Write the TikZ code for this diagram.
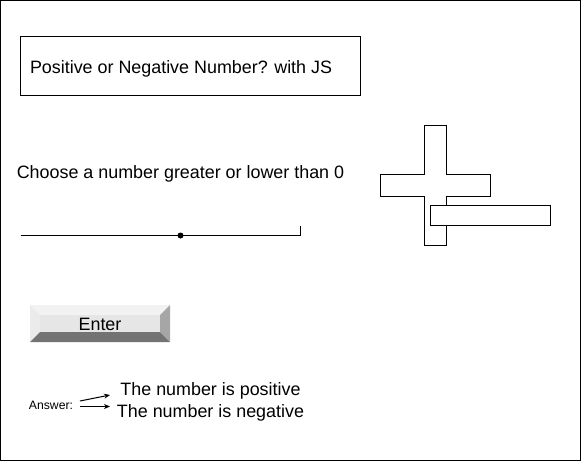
\documentclass[tikz,border=0pt]{standalone}
\usepackage{fontspec}
\setmainfont{Liberation Sans}
\usetikzlibrary{arrows.meta}

\begin{document}
\begin{tikzpicture}[x=1pt,y=-1pt,line width=1pt,font=\fontsize{17.9}{21}\selectfont,>={Stealth[length=6pt,width=5pt]}]
   \definecolor{bevellight}{HTML}{F2F2F2}
   \definecolor{bevelleft}{HTML}{EBEBEB}
   \definecolor{bevelface}{HTML}{E6E6E6}
   \definecolor{bevelright}{HTML}{A6A6A6}
   \definecolor{beveldark}{HTML}{737373}
   \useasboundingbox (0,0) rectangle (581,461);
   \draw (0.5,0.5) rectangle (580.5,460.5);
   % title and question
   \draw (20.5,36.5) rectangle (360.5,95.5);
   \node[anchor=base west,inner sep=0] (title) at (29.5,73.5) {Positive or Negative Number? with JS};
   \node[anchor=base,inner sep=0] (prompt) at (180.5,178) {Choose a number greater or lower than 0};
   % slider
   \coordinate (trackleft) at (20.5,235.5);
   \coordinate (trackright) at (300.5,235.5);
   \coordinate (trackend) at (300.5,225.5);
   \draw (trackleft) -- (trackright) -- (trackend);
   \fill (180.5,235.5) circle (3);
   % plus and minus
   \draw[fill=white] (424.5,125.5) -- (446.5,125.5) -- (446.5,174.5) -- (490.5,174.5) -- (490.5,196.5) -- (446.5,196.5) -- (446.5,245.5) -- (424.5,245.5) -- (424.5,196.5) -- (380.5,196.5) -- (380.5,174.5) -- (424.5,174.5) -- cycle;
   \draw[fill=white] (430.5,205.5) rectangle (550.5,225.5);
   % button
   \fill[bevellight] (30,305) -- (170,305) -- (160,315) -- (40,315) -- cycle;
   \fill[bevelleft] (30,305) -- (40,315) -- (40,332) -- (30,342) -- cycle;
   \fill[bevelright] (170,305) -- (170,342) -- (160,332) -- (160,315) -- cycle;
   \fill[beveldark] (30,342) -- (40,332) -- (160,332) -- (170,342) -- cycle;
   \fill[bevelface] (40,315) rectangle (160,332);
   \node[anchor=base,inner sep=0] (enter) at (100,330.7) {Enter};
   % answer
   \node[anchor=base,inner sep=0,font=\fontsize{12.2}{14}\selectfont] (answer) at (51,409) {Answer:};
   \node[anchor=base,inner sep=0] (positive) at (210.5,395) {The number is positive};
   \node[anchor=base,inner sep=0] (negative) at (210.5,417) {The number is negative};
   \coordinate (ansup) at (80,401);
   \coordinate (ansdown) at (80,406.5);
   \coordinate (posin) at (110,395);
   \coordinate (negin) at (110,406.5);
   \draw[->] (ansup) -- (posin);
   \draw[->] (ansdown) -- (negin);
\end{tikzpicture}
\end{document}
